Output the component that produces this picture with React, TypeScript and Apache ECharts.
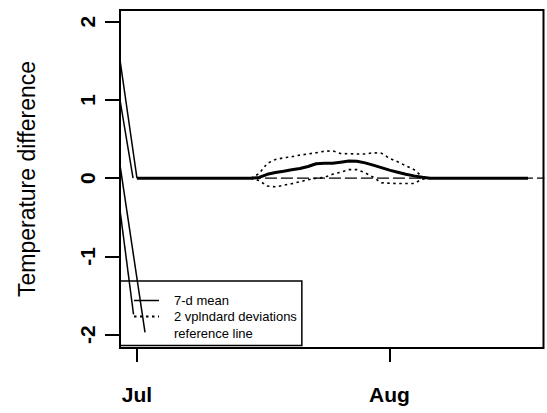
import React, { useEffect, useRef } from "react";
import * as echarts from "echarts";

// ---- data (days since 1 July) ----
const days: number[] = Array.from({ length: 49 }, (_, i) => i);

const meanValues: number[] = [
  0, 0, 0, 0, 0, 0, 0, 0, 0, 0, 0, 0, 0, 0, 0,
  0.01, 0.05, 0.073, 0.09, 0.108, 0.124, 0.15, 0.185, 0.19, 0.19, 0.205, 0.22,
  0.218, 0.196, 0.167, 0.135, 0.103, 0.077, 0.05, 0.03, 0.013, 0,
  0, 0, 0, 0, 0, 0, 0, 0, 0, 0, 0, 0,
];

const upperValues: number[] = [
  0, 0, 0, 0, 0, 0, 0, 0, 0, 0, 0, 0, 0, 0, 0,
  0.06, 0.19, 0.24, 0.26, 0.275, 0.295, 0.31, 0.325, 0.345, 0.35, 0.315, 0.313,
  0.31, 0.31, 0.325, 0.32, 0.255, 0.21, 0.16, 0.11, 0.02, 0,
  0, 0, 0, 0, 0, 0, 0, 0, 0, 0, 0, 0,
];

const lowerValues: number[] = [
  0, 0, 0, 0, 0, 0, 0, 0, 0, 0, 0, 0, 0, 0, 0,
  -0.03, -0.1, -0.11, -0.09, -0.07, -0.045, -0.02, 0, 0.01, 0.05, 0.077, 0.11,
  0.11, 0.07, 0.013, -0.058, -0.065, -0.068, -0.068, -0.068, -0.013, 0,
  0, 0, 0, 0, 0, 0, 0, 0, 0, 0, 0, 0,
];

const referenceDays: number[] = [0, 50];
const referenceValues: number[] = [0, 0];

// stray segments entering from the left edge
const strayLine1X: number[] = [-3, 0];
const strayLine1Y: number[] = [2.18, 0];
const strayLine2X: number[] = [-3, -0.48];
const strayLine2Y: number[] = [1.575, 0];
const strayLine3X: number[] = [-3, 0.99];
const strayLine3Y: number[] = [0.81, -1.97];
const strayLine4X: number[] = [-3, -0.42];
const strayLine4Y: number[] = [0.33, -1.74];

const xTickDays: number[] = [0, 31];
const xTickLabels: string[] = ["Jul", "Aug"];
const yTicks: number[] = [-2, -1, 0, 1, 2];

const X_MIN = -2.08;
const X_MAX = 49.9;
const Y_MIN = -2.17;
const Y_MAX = 2.15;

const FONT = '"Liberation Sans", Arial, Helvetica, sans-serif';

const pairs = (xs: number[], ys: number[]) => xs.map((x, i) => [x, ys[i]]);

export default function App() {
  const ref = useRef<HTMLDivElement>(null);

  useEffect(() => {
    if (!ref.current) return;
    const chart = echarts.init(ref.current, null, { renderer: "svg" });

    const stray = (xs: number[], ys: number[]) => ({
      type: "line",
      name: "stray",
      data: pairs(xs, ys),
      symbol: "none",
      clip: true,
      silent: true,
      itemStyle: { color: "#000" },
      lineStyle: { color: "#000", width: 1.5, type: "solid" },
      z: 3,
    });

    const hiddenSymbol = { color: "transparent", borderWidth: 0, opacity: 0 };

    const option: any = {
      animation: false,
      backgroundColor: "#fff",
      textStyle: { fontFamily: FONT },
      grid: {
        left: 120,
        top: 10,
        width: 423.5,
        height: 338,
        show: true,
        borderColor: "#000",
        borderWidth: 2,
        backgroundColor: "transparent",
        containLabel: false,
      },
      xAxis: {
        type: "value",
        min: X_MIN,
        max: X_MAX,
        position: "bottom",
        axisLine: { show: false, onZero: false },
        splitLine: { show: false },
        axisTick: {
          show: true,
          length: 14,
          customValues: xTickDays,
          lineStyle: { color: "#000", width: 2 },
        },
        axisLabel: {
          customValues: xTickDays,
          formatter: (v: number) => {
            const i = xTickDays.indexOf(Math.round(v));
            return i >= 0 ? xTickLabels[i] : "";
          },
          fontSize: 21,
          fontWeight: "bold",
          color: "#000",
          fontFamily: FONT,
          margin: 36,
        },
      },
      yAxis: {
        type: "value",
        min: Y_MIN,
        max: Y_MAX,
        position: "left",
        axisLine: { show: false, onZero: false },
        splitLine: { show: false },
        axisTick: {
          show: true,
          length: 15,
          customValues: yTicks,
          lineStyle: { color: "#000", width: 2 },
        },
        axisLabel: {
          customValues: yTicks,
          rotate: 90,
          fontSize: 21,
          fontWeight: "bold",
          color: "#000",
          fontFamily: FONT,
          margin: 22,
        },
        name: "Temperature difference",
        nameLocation: "middle",
        nameGap: 82,
        nameTextStyle: { fontSize: 23, color: "#000", fontFamily: FONT },
      },
      legend: {
        orient: "vertical",
        left: 120,
        top: 281,
        padding: [13, 5, 6, 13],
        itemWidth: 25,
        itemHeight: 14,
        itemGap: 3,
        borderColor: "#000",
        borderWidth: 1.5,
        selectedMode: false,
        itemStyle: hiddenSymbol,
        textStyle: {
          fontSize: 13,
          color: "#000",
          fontFamily: FONT,
          padding: [0, 0, 0, 10],
        },
        data: [
          { name: "7-d mean", lineStyle: { width: 1.5 }, itemStyle: hiddenSymbol },
          { name: "2 vplndard deviations", itemStyle: hiddenSymbol },
          { name: "reference line", icon: "none" },
        ],
      },
      series: [
        {
          type: "line",
          name: "reference line",
          data: pairs(referenceDays, referenceValues),
          symbol: "none",
          clip: true,
          itemStyle: { color: "#000" },
          lineStyle: { color: "#000", width: 1.3, type: [12, 4] },
          z: 2,
        },
        {
          type: "line",
          name: "2 vplndard deviations",
          data: pairs(days, upperValues),
          symbol: "none",
          clip: true,
          itemStyle: { color: "#000" },
          lineStyle: { color: "#000", width: 1.6, type: [2.5, 3.5] },
          z: 2,
        },
        {
          type: "line",
          name: "2 vplndard deviations",
          data: pairs(days, lowerValues),
          symbol: "none",
          clip: true,
          itemStyle: { color: "#000" },
          lineStyle: { color: "#000", width: 1.6, type: [2.5, 3.5] },
          z: 2,
        },
        {
          type: "line",
          name: "7-d mean",
          data: pairs(days, meanValues),
          symbol: "none",
          clip: true,
          itemStyle: { color: "#000" },
          lineStyle: { color: "#000", width: 3, type: "solid" },
          z: 3,
        },
        stray(strayLine1X, strayLine1Y),
        stray(strayLine2X, strayLine2Y),
        stray(strayLine3X, strayLine3Y),
        stray(strayLine4X, strayLine4Y),
      ],
    };

    chart.setOption(option);
    return () => chart.dispose();
  }, []);

  return (
    <div
      ref={ref}
      style={{ position: "fixed", left: 0, top: 0, width: 547, height: 413, background: "#fff" }}
    />
  );
}
